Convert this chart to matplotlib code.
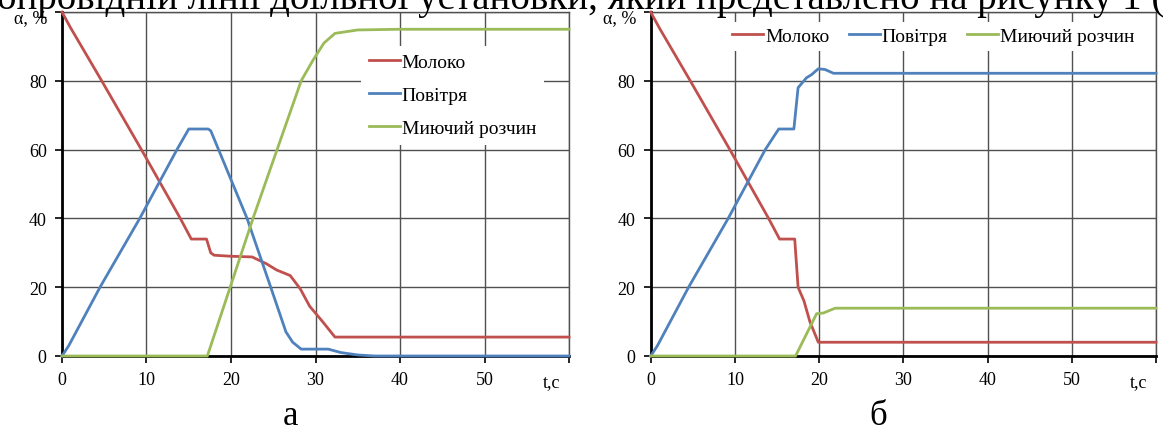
import matplotlib
matplotlib.use("Agg")
import matplotlib.pyplot as plt

plt.rcParams['font.family'] = ['Liberation Serif', 'DejaVu Serif']

# panel "а"
t_milk_a = [0, 1, 4.7, 9.4, 14, 15.3, 17.1, 17.6, 18, 20, 22.5, 24.2, 25.4, 27, 28.2, 29.3, 30.9, 32.3, 60]
milk_a = [100, 95.5, 80, 60, 40, 34, 34, 30, 29.3, 29, 28.8, 26.8, 25, 23.4, 19.5, 14.5, 9.8, 5.5, 5.5]
t_air_a = [0, 0.8, 4.5, 9.2, 13.6, 15, 17.3, 17.6, 21.9, 24.7, 26.5, 27.3, 28.3, 31.5, 33, 35, 37, 60]
air_a = [0, 3, 20, 40, 60, 66, 66, 65.5, 40, 20, 7, 4, 2, 2, 1, 0.3, 0, 0]
t_wash_a = [0, 17.2, 19.9, 22.6, 28.3, 29.7, 31, 32.3, 35, 40, 60]
wash_a = [0, 0, 20, 40, 80, 86, 91, 93.8, 94.8, 95, 95]

# panel "б"
t_milk_b = [0, 1, 4.7, 9.4, 14, 15.3, 17.1, 17.5, 18.2, 18.9, 19.9, 60]
milk_b = [100, 95.5, 80, 60, 40, 34, 34, 20, 16, 10, 4, 4]
t_air_b = [0, 0.8, 4.5, 9.2, 13.6, 15.2, 17.0, 17.5, 18.5, 19.1, 19.9, 20.7, 21.7, 60]
air_b = [0, 3, 20, 40, 60, 66, 66, 78, 80.9, 81.8, 83.5, 83.3, 82.2, 82.2]
t_wash_b = [0, 17.2, 19.7, 20.5, 21.9, 60]
wash_b = [0, 0, 12.3, 12.5, 13.9, 13.9]

labels = ['Молоко', 'Повітря', 'Миючий розчин']
colors = ['#C0504D', '#4F81BD', '#9BBB59']
xticks = [0, 10, 20, 30, 40, 50]
yticks = [0, 20, 40, 60, 80]

fig = plt.figure(figsize=(11.63, 4.31), dpi=100)
ax_a = fig.add_axes([0.0533, 0.1717, 0.436, 0.798])
ax_b = fig.add_axes([0.5595, 0.1717, 0.4345, 0.798])

panels = [
    (ax_a, [(t_milk_a, milk_a), (t_air_a, air_a), (t_wash_a, wash_a)], 'а'),
    (ax_b, [(t_milk_b, milk_b), (t_air_b, air_b), (t_wash_b, wash_b)], 'б'),
]

for ax, series, letter in panels:
    for (t, y), lab, c in zip(series, labels, colors):
        ax.plot(t, y, color=c, lw=2.0, label=lab, zorder=4, clip_on=False)
    ax.set_xlim(0, 60)
    ax.set_ylim(0, 100)
    ax.set_xticks(xticks + [60])
    ax.set_xticklabels([str(v) for v in xticks] + [''])
    ax.set_yticks(yticks + [100])
    ax.set_yticklabels([str(v) for v in yticks] + [''])
    ax.tick_params(axis='both', direction='out', length=5, width=1.2, labelsize=13, pad=6)
    ax.grid(True, color='#505050', lw=1.0)
    ax.set_axisbelow(True)
    for s in ['left', 'bottom']:
        ax.spines[s].set_linewidth(2.0)
        ax.spines[s].set_color('black')
    for s in ['top', 'right']:
        ax.spines[s].set_linewidth(1.0)
        ax.spines[s].set_color('#505050')
    ax.text(-0.028, 0.985, 'α, %', transform=ax.transAxes, ha='right', va='center', fontsize=13)
    ax.text(0.965, -0.075, 't,c', transform=ax.transAxes, ha='center', va='center', fontsize=13)
    ax.text(0.45, -0.198, letter, transform=ax.transAxes, ha='center', va='baseline', fontsize=25)

leg_a = ax_a.legend(loc='upper left', bbox_to_anchor=(0.57, 0.93), fontsize=14,
                    handlelength=1.6, handletextpad=0.1, labelspacing=0.78,
                    frameon=True, fancybox=False, framealpha=1, borderpad=0.4)
leg_a.get_frame().set_edgecolor('none')
leg_a.set_zorder(3.5)

leg_b = ax_b.legend(loc='upper left', bbox_to_anchor=(0.13, 1.0), fontsize=14, ncol=3,
                    handlelength=1.6, handletextpad=0.1, columnspacing=1.0,
                    frameon=True, fancybox=False, framealpha=1, borderpad=0.3)
leg_b.get_frame().set_edgecolor('none')
leg_b.set_zorder(3.5)

fig.text(-0.003, 0.979, 'опровідній лінії доїльної установки, який представлено на рисунку 1 (',
         ha='left', va='baseline', fontsize=28)

fig.savefig('out.png', dpi=100)
